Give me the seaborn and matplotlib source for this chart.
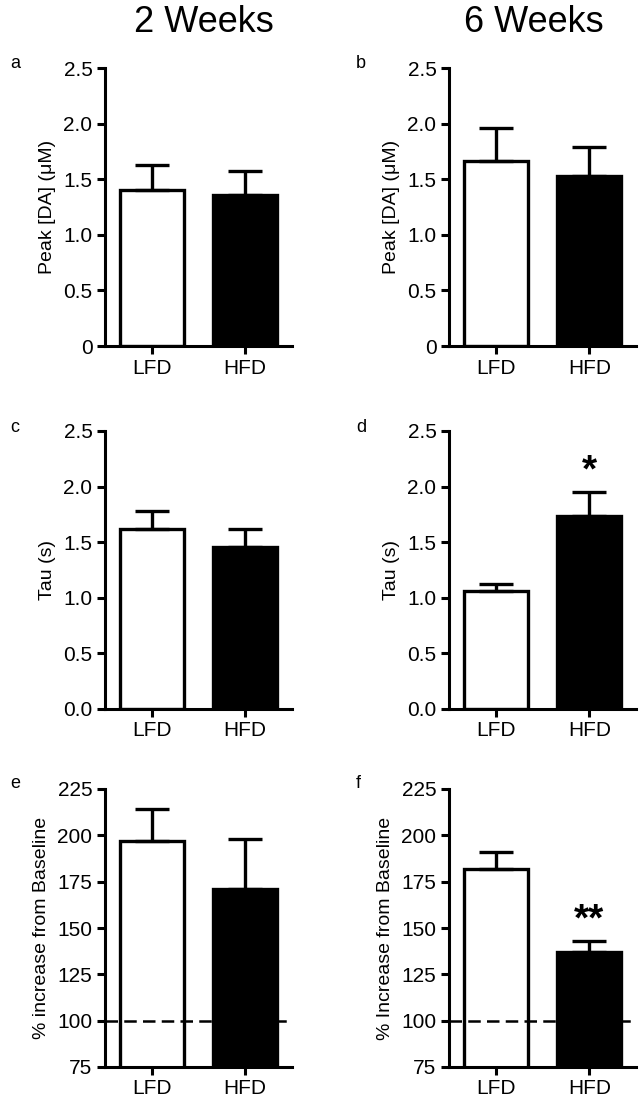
import matplotlib
matplotlib.use("Agg")
import matplotlib.pyplot as plt
import seaborn as sns
import pandas as pd

# diet groups
groups = ["LFD", "HFD"]
bar_colors = ["white", "black"]

# panel means and upper SEM
peak_2wk = [1.40, 1.36]
peak_2wk_sem = [0.23, 0.21]
peak_6wk = [1.66, 1.53]
peak_6wk_sem = [0.30, 0.26]

tau_2wk = [1.62, 1.46]
tau_2wk_sem = [0.16, 0.16]
tau_6wk = [1.06, 1.74]
tau_6wk_sem = [0.06, 0.21]

incr_2wk = [197, 171]
incr_2wk_sem = [17, 27]
incr_6wk = [182, 137]
incr_6wk_sem = [9, 6]

# significance marks per bar
tau_6wk_sig = ["", "*"]
incr_6wk_sig = ["", "**"]

col_titles = ["2 Weeks", "6 Weeks"]
panel_letters = ["a", "b", "c", "d", "e", "f"]

dec_ticks = [0, 0.5, 1.0, 1.5, 2.0, 2.5]
dec_labels_a = ["0", "0.5", "1.0", "1.5", "2.0", "2.5"]
dec_labels_c = ["0.0", "0.5", "1.0", "1.5", "2.0", "2.5"]
pct_ticks = [75, 100, 125, 150, 175, 200, 225]


sns.set_style("ticks")
plt.rcParams["font.family"] = ["Liberation Sans", "DejaVu Sans"]
plt.rcParams["text.color"] = "black"
plt.rcParams["axes.labelcolor"] = "black"
plt.rcParams["axes.edgecolor"] = "black"
plt.rcParams["axes.linewidth"] = 2.2
plt.rcParams["xtick.major.width"] = 2.2
plt.rcParams["ytick.major.width"] = 2.2
plt.rcParams["xtick.major.size"] = 6
plt.rcParams["ytick.major.size"] = 6
plt.rcParams["xtick.color"] = "black"
plt.rcParams["ytick.color"] = "black"

fig = plt.figure(figsize=(6.42, 11.01), dpi=100)

lefts = [105 / 642, 449 / 642]
bottoms = [1 - 346 / 1101, 1 - 709 / 1101, 1 - 1067 / 1101]
w = 187 / 642
h = 278 / 1101

panels = [
    (peak_2wk, peak_2wk_sem, None, "Peak [DA] (\u03bcM)", (0, 2.5), dec_ticks, dec_labels_a, None),
    (peak_6wk, peak_6wk_sem, None, "Peak [DA] (\u03bcM)", (0, 2.5), dec_ticks, dec_labels_a, None),
    (tau_2wk, tau_2wk_sem, None, "Tau (s)", (0, 2.5), dec_ticks, dec_labels_c, None),
    (tau_6wk, tau_6wk_sem, tau_6wk_sig, "Tau (s)", (0, 2.5), dec_ticks, dec_labels_c, None),
    (incr_2wk, incr_2wk_sem, None, "% increase from Baseline", (75, 225), pct_ticks, None, 100),
    (incr_6wk, incr_6wk_sem, incr_6wk_sig, "% Increase from Baseline", (75, 225), pct_ticks, None, 100),
]

for i, (means, sems, sig, ylabel, ylim, yticks, ylabels, hline) in enumerate(panels):
    row, col = divmod(i, 2)
    ax = fig.add_axes([lefts[col], bottoms[row], w, h])
    df = pd.DataFrame({"group": groups, "value": means})
    sns.barplot(data=df, x="group", y="value", hue="group", palette=bar_colors,
                edgecolor="black", linewidth=2.4, width=0.68, errorbar=None,
                legend=False, ax=ax)
    ax.errorbar(range(len(groups)), means, yerr=[[0] * len(sems), sems],
                fmt="none", ecolor="black", elinewidth=2.4, capsize=12,
                capthick=2.4, zorder=1)
    if hline is not None:
        ax.axhline(hline, color="black", lw=1.8, linestyle=(0, (5, 2.5)), zorder=5)
    if sig is not None:
        span = ylim[1] - ylim[0]
        for x, (m, s, t) in enumerate(zip(means, sems, sig)):
            if t:
                ax.text(x, m + s + 0.075 * span, t, ha="center", va="center",
                        fontsize=28, fontweight="bold")
    ax.set_xlim(-0.5, 1.5)
    ax.set_ylim(*ylim)
    ax.set_yticks(yticks)
    if ylabels is not None:
        ax.set_yticklabels(ylabels)
    ax.set_xlabel("")
    ax.set_ylabel(ylabel, fontsize=14, labelpad=5)
    ax.tick_params(axis="both", labelsize=15, pad=3)
    sns.despine(ax=ax)
    fig.text((10 if col == 0 else 356) / 642, 1 - [64, 427, 783][row] / 1101,
             panel_letters[i], fontsize=13, va="center", ha="left")

for col, title in enumerate(col_titles):
    fig.text([204, 534][col] / 642, 1 - 22 / 1101, title, fontsize=26,
             ha="center", va="center")

fig.savefig("out.png", dpi=100)
